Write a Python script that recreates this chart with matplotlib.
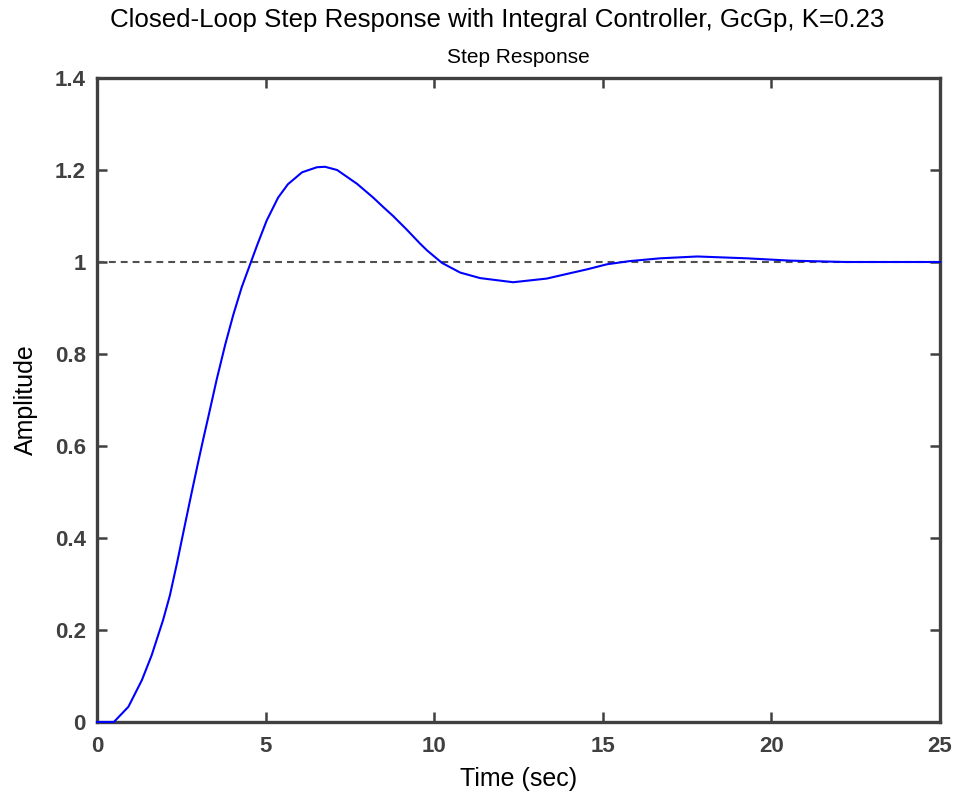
import matplotlib
matplotlib.use("Agg")
import matplotlib.pyplot as plt

# step response (time in sec, amplitude)
t = [0, 0.5, 0.93, 1.33, 1.62, 1.96, 2.16, 2.37, 2.61, 2.81, 3.0, 3.15, 3.29,
     3.55, 3.80, 4.04, 4.29, 4.54, 4.74, 5.03, 5.37, 5.66, 6.08, 6.52, 6.76,
     7.12, 7.71, 8.19, 8.48, 8.78, 9.19, 9.58, 9.79, 10.23, 10.77, 11.36,
     12.34, 13.34, 13.93, 14.53, 15.12, 15.8, 16.7, 17.8, 19.27, 20.55, 22.2, 25.0]
amp = [0, 0.0, 0.033, 0.091, 0.145, 0.222, 0.275, 0.345, 0.43, 0.50, 0.565, 0.615,
       0.66, 0.745, 0.82, 0.885, 0.945, 0.995, 1.035, 1.09, 1.14, 1.169,
       1.195, 1.206, 1.207, 1.2, 1.17, 1.14, 1.12, 1.10, 1.07, 1.04,
       1.025, 0.998, 0.977, 0.965, 0.956, 0.964, 0.974, 0.984, 0.995, 1.002,
       1.008, 1.012, 1.008, 1.003, 1.0, 1.0]
final_value = 1.0
xticks = [0, 5, 10, 15, 20, 25]
yticks = [0, 0.2, 0.4, 0.6, 0.8, 1, 1.2, 1.4]
ytick_labels = ['0', '0.2', '0.4', '0.6', '0.8', '1', '1.2', '1.4']

plt.rcParams['font.family'] = ['Liberation Sans', 'DejaVu Sans']

gray = '#404040'
fig = plt.figure(figsize=(9.56, 7.96), dpi=100)
ax = fig.add_axes([0.1015, 0.093, 0.8818, 0.809])

ax.plot(t, amp, color='#0000ff', lw=1.5, zorder=4, clip_on=False)
ax.axhline(final_value, color='#505050', lw=1.5, ls=(0, (3.3, 2.4)), zorder=2)

ax.set_xlim(0, 25)
ax.set_ylim(0, 1.4)
ax.set_xticks(xticks)
ax.set_xticklabels([str(v) for v in xticks])
ax.set_yticks(yticks)
ax.set_yticklabels(ytick_labels)
ax.tick_params(direction='in', length=7, width=1.8, color=gray, labelcolor=gray,
               labelsize=16, top=True, right=True)
ax.tick_params(axis='x', pad=10)
ax.tick_params(axis='y', pad=8)
for lab in ax.get_xticklabels() + ax.get_yticklabels():
    lab.set_fontweight('bold')
for s in ax.spines.values():
    s.set_color(gray)
    s.set_linewidth(2.4)

ax.set_xlabel('Time (sec)', fontsize=18, labelpad=7)
ax.set_ylabel('Amplitude', fontsize=18, labelpad=12)
ax.set_title('Step Response', fontsize=15, pad=11)
fig.text(0.52, 0.975, 'Closed-Loop Step Response with Integral Controller, GcGp, K=0.23',
         ha='center', va='center', fontsize=18.6)

fig.savefig('out.png', dpi=100)
